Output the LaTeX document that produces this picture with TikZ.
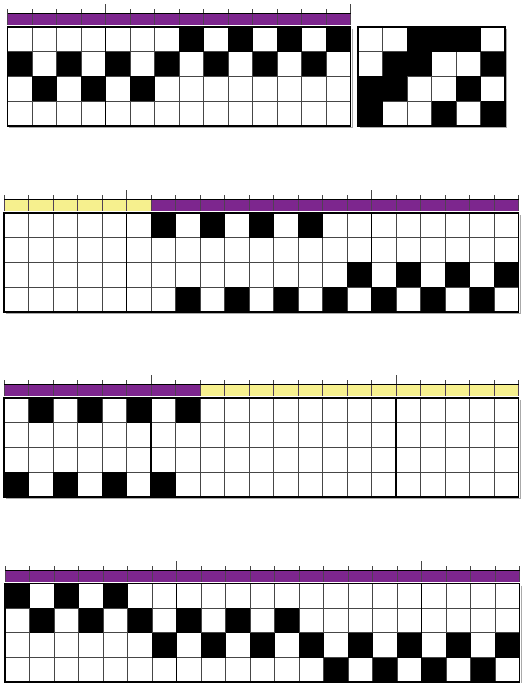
\documentclass[tikz,border=0pt]{standalone}
\usepackage{tikz}
\definecolor{barpurple}{RGB}{125,38,142}
\definecolor{baryellow}{RGB}{246,240,142}
\definecolor{gridgray}{RGB}{70,70,70}
\definecolor{shadowgray}{RGB}{170,170,170}
\tikzset{
  gridln/.style={draw=gridgray,line width=0.9pt},
  borderln/.style={draw=black,line width=1.8pt},
  shadowln/.style={draw=shadowgray,line width=1.2pt},
  thickln/.style={draw=black,line width=1.6pt},
  tickln/.style={draw=gridgray,line width=0.6pt},
  dividln/.style={draw=gridgray!80!barpurple,line width=0.5pt},
  barline/.style={draw=black,line width=1.4pt},
  blackcell/.style={fill=black},
}
\def\cw{24.5}
\def\rh{24.7}
% #1 x0, #2 ytop, #3 ncols
\newcommand\cellgrid[3]{%
  \fill[white] (#1,#2) rectangle ++({#3*\cw},{4*\rh});
  \foreach \i in {0,...,#3} {\draw[gridln] ({#1+\i*\cw},#2) -- ++(0,{4*\rh});}
  \foreach \j in {1,2,3} {\draw[gridln] (#1,{#2+\j*\rh}) -- ++({#3*\cw},0);}
}
\newcommand\cellborder[3]{%
  \draw[shadowln] ({#1+#3*\cw+1.6},{#2+2}) -- ++(0,{4*\rh}) -- ++({-#3*\cw},0);
  \draw[borderln] (#1,#2) rectangle ++({#3*\cw},{4*\rh});
}
% #1 x0, #2 ytop, #3 row, #4 list
\newcommand\blackrow[4]{%
  \foreach \c in {#4} {\fill[blackcell] ({#1+\c*\cw},{#2+(#3-1)*\rh}) rectangle ++(\cw,\rh);}
}
% #1 x0, #2 bartop, #3 from, #4 to, #5 colour
\newcommand\barpart[5]{%
  \fill[#5] ({#1+#3*\cw},#2) rectangle ({#1+#4*\cw},{#2+11});
}
% #1 x0, #2 bartop, #3 ncols, #4 tall a, #5 tall b
\newcommand\barticks[5]{%
  \foreach \i in {0,...,#3} {%
    \draw[dividln] ({#1+\i*\cw},#2) -- ++(0,11);
    \draw[tickln] ({#1+\i*\cw},#2) -- ++(0,-5);
  }
  \draw[tickln] ({#1+#4*\cw},#2) -- ++(0,-9.5);
  \draw[tickln] ({#1+#5*\cw},#2) -- ++(0,-9.5);
  \draw[barline] (#1,#2) -- ++({#3*\cw},0);
}
% #1 x0, #2 ytop, #3 col
\newcommand\thickcol[3]{%
  \draw[thickln] ({#1+#3*\cw},#2) -- ++(0,{4*\rh});
}
\begin{document}
\begin{tikzpicture}[x=1pt,y=-1pt]
\useasboundingbox (0,0) rectangle (526,683);
\fill[white] (0,0) rectangle (526,683);

% ---------- Section 1 ----------
\def\xa{7.5}\def\ya{27}
\barpart{\xa}{13.5}{0}{14}{barpurple}
\barticks{\xa}{13.5}{14}{4}{14}
\cellgrid{\xa}{\ya}{14}
\blackrow{\xa}{\ya}{1}{7,9,11,13}
\blackrow{\xa}{\ya}{2}{0,2,4,6,8,10,12}
\blackrow{\xa}{\ya}{3}{1,3,5}
\thickcol{\xa}{\ya}{4}
\cellborder{\xa}{\ya}{14}

% ---------- Section 1b ----------
\def\xb{358}
\cellgrid{\xb}{\ya}{6}
\blackrow{\xb}{\ya}{1}{2,3,4}
\blackrow{\xb}{\ya}{2}{1,2,5}
\blackrow{\xb}{\ya}{3}{0,1,4}
\blackrow{\xb}{\ya}{4}{0,3,5}
\cellborder{\xb}{\ya}{6}

% ---------- Section 2 ----------
\def\xc{4}\def\yc{213}
\barpart{\xc}{199.5}{0}{6}{baryellow}
\barpart{\xc}{199.5}{6}{21}{barpurple}
\barticks{\xc}{199.5}{21}{5}{15}
\cellgrid{\xc}{\yc}{21}
\blackrow{\xc}{\yc}{1}{6,8,10,12}
\blackrow{\xc}{\yc}{3}{14,16,18,20}
\blackrow{\xc}{\yc}{4}{7,9,11,13,15,17,19}
\thickcol{\xc}{\yc}{5}
\thickcol{\xc}{\yc}{15}
\cellborder{\xc}{\yc}{21}

% ---------- Section 3 ----------
\def\xd{4}\def\yd{398}
\barpart{\xd}{384.5}{0}{8}{barpurple}
\barpart{\xd}{384.5}{8}{21}{baryellow}
\barticks{\xd}{384.5}{21}{6}{16}
\cellgrid{\xd}{\yd}{21}
\blackrow{\xd}{\yd}{1}{1,3,5,7}
\blackrow{\xd}{\yd}{4}{0,2,4,6}
\thickcol{\xd}{\yd}{6}
\thickcol{\xd}{\yd}{16}
\cellborder{\xd}{\yd}{21}

% ---------- Section 4 ----------
\def\xe{5}\def\ye{583.5}
\barpart{\xe}{570.5}{0}{21}{barpurple}
\barticks{\xe}{570.5}{21}{7}{17}
\cellgrid{\xe}{\ye}{21}
\blackrow{\xe}{\ye}{1}{0,2,4}
\blackrow{\xe}{\ye}{2}{1,3,5,7,9,11}
\blackrow{\xe}{\ye}{3}{6,8,10,12,14,16,18,20}
\blackrow{\xe}{\ye}{4}{13,15,17,19}
\thickcol{\xe}{\ye}{7}
\thickcol{\xe}{\ye}{17}
\cellborder{\xe}{\ye}{21}
\end{tikzpicture}
\end{document}
